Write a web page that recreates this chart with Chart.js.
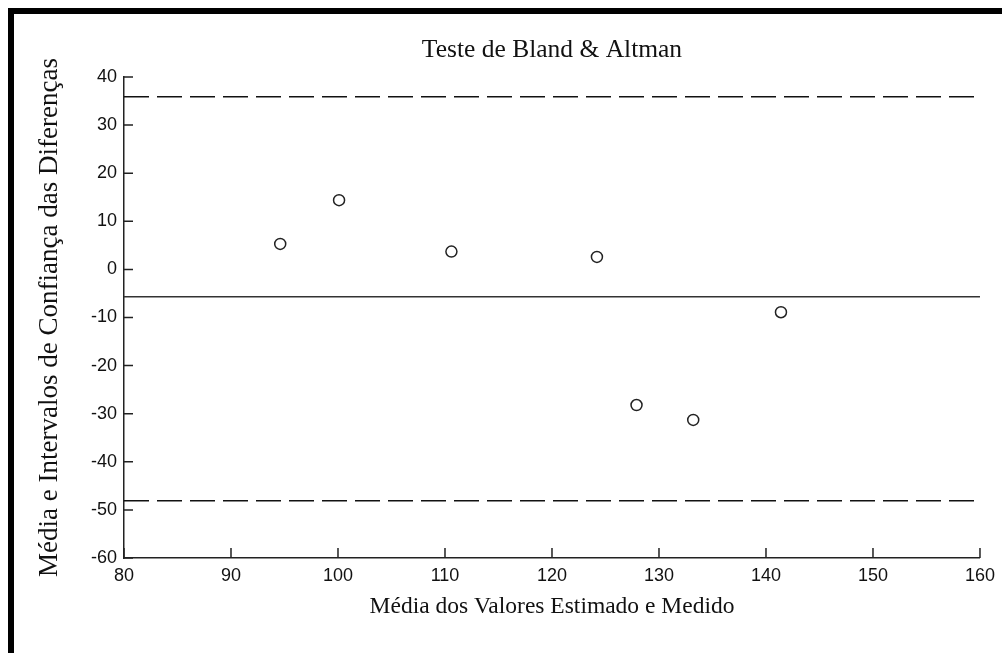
<!DOCTYPE html>
<html lang="pt">
<head>
<meta charset="UTF-8">
<title>Teste de Bland &amp; Altman</title>
<script src="https://cdn.jsdelivr.net/npm/chart.js@4.4.1/dist/chart.umd.min.js"></script>
<style>
  html, body { margin: 0; padding: 0; background: #fff; overflow: hidden; }
  #wrap { position: relative; width: 1002px; height: 653px; }
  .bar { position: absolute; background: #000; }
</style>
</head>
<body>
<div id="wrap">
  <canvas id="ba"></canvas>
  <div class="bar" style="left:8px; top:8px; width:994px; height:6px;"></div>
  <div class="bar" style="left:8px; top:8px; width:6px; height:645px;"></div>
</div>
<script>
// media dos valores (x) e diferencas (y)
const meanValues = [94.6, 100.1, 110.6, 124.2, 127.9, 133.2, 141.4];
const differences = [5.3, 14.4, 3.7, 2.6, -28.2, -31.3, -8.9];

// media e limites de concordancia
const meanDiff = -5.7;
const upperLimit = 35.9;
const lowerLimit = -48.1;

const xRange = [80, 160];
const yRange = [-60, 40];

const serif = "'Liberation Serif', 'Times New Roman', serif";
const sans = "'Liberation Sans', Arial, sans-serif";

// ticks pointing into the plot, like the original figure
const innerTicks = {
  id: 'innerTicks',
  afterDraw(chart) {
    const { ctx, chartArea, scales } = chart;
    ctx.save();
    ctx.strokeStyle = '#222';
    ctx.lineWidth = 1.5;
    ctx.beginPath();
    scales.x.ticks.forEach(t => {
      const px = scales.x.getPixelForValue(t.value);
      ctx.moveTo(px, chartArea.bottom);
      ctx.lineTo(px, chartArea.bottom - 10);
    });
    scales.y.ticks.forEach(t => {
      const py = scales.y.getPixelForValue(t.value);
      ctx.moveTo(chartArea.left, py);
      ctx.lineTo(chartArea.left + 9, py);
    });
    ctx.stroke();
    ctx.restore();
  }
};

const hLine = (value, dash, color) => ({
  type: 'line',
  data: xRange.map(x => ({ x: x, y: value })),
  borderColor: color,
  borderWidth: 1.5,
  borderDash: dash,
  pointRadius: 0,
  fill: false
});

new Chart(document.getElementById('ba'), {
  type: 'scatter',
  data: {
    datasets: [
      {
        data: meanValues.map((x, i) => ({ x: x, y: differences[i] })),
        pointStyle: 'circle',
        pointRadius: 5.5,
        borderColor: '#222',
        borderWidth: 1.5,
        backgroundColor: 'rgba(255,255,255,0)'
      },
      hLine(upperLimit, [25, 8], '#111'),
      hLine(meanDiff, [], '#333'),
      hLine(lowerLimit, [25, 8], '#111')
    ]
  },
  options: {
    responsive: true,
    maintainAspectRatio: false,
    animation: false,
    layout: { padding: { left: 0, right: 21, top: 0, bottom: 0 } },
    plugins: {
      legend: { display: false },
      tooltip: { enabled: false },
      title: {
        display: true,
        fullSize: false,
        text: 'Teste de Bland & Altman',
        color: '#111',
        font: { family: serif, size: 25.5, weight: 'normal' },
        padding: { top: 35, bottom: 11.4 }
      }
    },
    scales: {
      x: {
        type: 'linear',
        min: xRange[0],
        max: xRange[1],
        afterFit: s => { s.height = 95; },
        ticks: { stepSize: 10, color: '#111', padding: 7, font: { family: sans, size: 18 } },
        grid: { drawOnChartArea: false, drawTicks: false },
        border: { display: true, color: '#222', width: 1.5 },
        title: {
          display: true,
          text: 'Média dos Valores Estimado e Medido',
          color: '#111',
          font: { family: serif, size: 23.5 },
          padding: { top: 0, bottom: 32 }
        }
      },
      y: {
        type: 'linear',
        min: yRange[0],
        max: yRange[1],
        afterFit: s => { s.width = 124; },
        ticks: { stepSize: 10, color: '#111', padding: 7, font: { family: sans, size: 18 } },
        grid: { drawOnChartArea: false, drawTicks: false },
        border: { display: true, color: '#222', width: 1.5 },
        title: {
          display: true,
          text: 'Média e Intervalos de Confiança das Diferenças',
          color: '#111',
          font: { family: serif, size: 27 },
          padding: { top: 34, bottom: 0 }
        }
      }
    }
  },
  plugins: [innerTicks]
});
</script>
</body>
</html>
